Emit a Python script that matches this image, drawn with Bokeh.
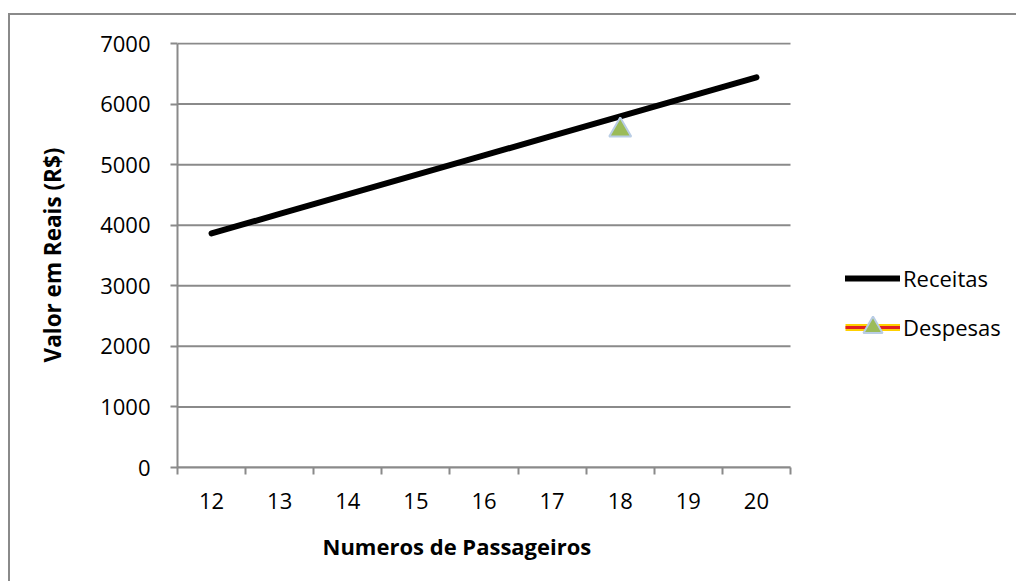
from bokeh.plotting import figure
from bokeh.models import Range1d, FixedTicker, Legend, LegendItem, Title
from bokeh.embed import file_html
from bokeh.resources import INLINE
import math

# Data
passageiros = [12, 13, 14, 15, 16, 17, 18, 19, 20]
receitas = [3864, 4186, 4508, 4830, 5152, 5474, 5796, 6118, 6440]
despesas = [math.nan, math.nan, math.nan, math.nan, math.nan, math.nan, 5570, math.nan, math.nan]
y_ticks = [0, 1000, 2000, 3000, 4000, 5000, 6000, 7000]

FONT = "Open Sans"
GRAY = "#8a8a8a"

# geometry (page pixels): canvas starts at x=10, y=15 (margin + border)
PLOT_L, PLOT_R, PLOT_T, PLOT_B = 177, 790, 43, 467
PAGE_R = 1018
x_lo = passageiros[0] - 0.5
x_hi_axis = passageiros[-1] + 0.5
cat_px = (PLOT_R - PLOT_L) / (x_hi_axis - x_lo)
x_hi_frame = x_lo + (PAGE_R - PLOT_L) / cat_px
y_top_frame = y_ticks[-1] * (PLOT_B - PLOT_T + 1) / (PLOT_B - PLOT_T)

p = figure(width=1008, height=568, output_backend="svg", toolbar_location=None,
           x_range=Range1d(x_lo, x_hi_frame),
           y_range=Range1d(y_ticks[0], y_top_frame),
           min_border_left=PLOT_L - 10, min_border_right=0,
           min_border_top=PLOT_T - 1 - 15, min_border_bottom=568 - (PLOT_B - 15))
p.styles = {"border-left": f"2px solid {GRAY}", "border-top": f"2px solid {GRAY}",
            "margin-left": "8px", "margin-top": "13px"}
p.outline_line_color = None
p.background_fill_color = "white"
p.border_fill_color = "white"

# x axis: labels at category centres, ticks at category boundaries
p.xaxis.bounds = (x_lo, x_hi_axis)
p.xaxis.ticker = FixedTicker(ticks=passageiros,
                             minor_ticks=[c - 0.5 for c in passageiros] + [passageiros[-1] + 0.5])
p.xaxis.major_tick_out = 0
p.xaxis.major_tick_in = 0
p.xaxis.minor_tick_out = 7
p.xaxis.minor_tick_in = 0
p.xaxis.minor_tick_line_color = GRAY
p.xaxis.minor_tick_line_width = 2
p.xaxis.axis_line_color = GRAY
p.xaxis.axis_line_width = 2
p.xaxis.major_label_text_font = FONT
p.xaxis.major_label_text_font_size = "22px"
p.xaxis.major_label_text_color = "black"
p.xaxis.major_label_standoff = 18

x_title = Title(text="Numeros de Passageiros", align="left", offset=145, standoff=34,
                text_font=FONT, text_font_style="bold", text_font_size="22px",
                text_color="black")
p.add_layout(x_title, "below")

# y axis
p.yaxis.bounds = (y_ticks[0], y_ticks[-1])
p.yaxis.ticker = FixedTicker(ticks=y_ticks)
p.yaxis.major_tick_out = 7
p.yaxis.major_tick_in = 0
p.yaxis.major_tick_line_color = GRAY
p.yaxis.major_tick_line_width = 2
p.yaxis.minor_tick_line_color = None
p.yaxis.axis_line_color = GRAY
p.yaxis.axis_line_width = 2
p.yaxis.major_label_text_font = FONT
p.yaxis.major_label_text_font_size = "22px"
p.yaxis.major_label_text_color = "black"
p.yaxis.major_label_standoff = 20
p.yaxis.axis_label = "Valor em Reais (R$)"
p.yaxis.axis_label_text_font = FONT
p.yaxis.axis_label_text_font_style = "bold"
p.yaxis.axis_label_text_font_size = "22.5px"
p.yaxis.axis_label_text_color = "black"
p.yaxis.axis_label_standoff = 29

p.xgrid.grid_line_color = None
p.ygrid.grid_line_color = None

# horizontal gridlines limited to the plot area
p.segment(x0=[x_lo] * len(y_ticks), x1=[x_hi_axis] * len(y_ticks), y0=y_ticks, y1=y_ticks,
          line_color=GRAY, line_width=2, level="underlay")

# series
r_rec = p.line(passageiros, receitas, line_color="black", line_width=6, line_cap="round")
r_d1 = p.line(passageiros, despesas, line_color="#FFD000", line_width=7)
r_d2 = p.line(passageiros, despesas, line_color="#E02020", line_width=3)
r_d3 = p.scatter(passageiros, despesas, marker="triangle", size=22,
                 fill_color="#9BBB59", line_color="#B9CDE5", line_width=2)

legend = Legend(items=[LegendItem(label="Receitas", renderers=[r_rec]),
                       LegendItem(label="Despesas", renderers=[r_d1, r_d2, r_d3])],
                location=(845 - PLOT_L, 116), orientation="vertical",
                glyph_width=55, glyph_height=48, label_height=20, spacing=1,
                padding=0, margin=0, label_standoff=3,
                label_text_font=FONT, label_text_font_size="22px", label_text_color="black",
                border_line_color=None, background_fill_alpha=0)
p.add_layout(legend, "center")

open("out.html", "w").write(file_html(p, INLINE))
